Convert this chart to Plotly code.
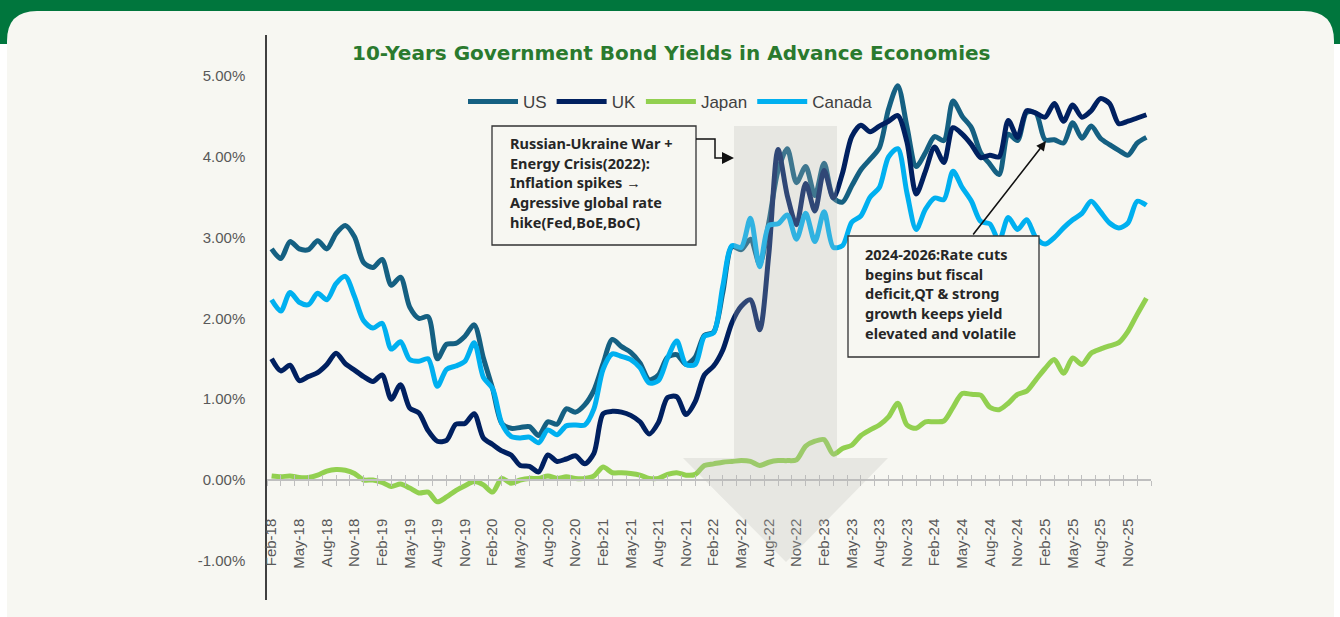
import plotly.graph_objects as go

# ---------------- data ----------------
month_names = ['Jan','Feb','Mar','Apr','May','Jun','Jul','Aug','Sep','Oct','Nov','Dec']
dates = []
for k in range(96):
    m = (1 + k) % 12
    y = 18 + (1 + k) // 12
    dates.append(f"{month_names[m]}-{y:02d}")

us = [2.86, 2.74, 2.95, 2.86, 2.85, 2.96, 2.86, 3.05, 3.15, 3.01, 2.69, 2.63,
      2.73, 2.41, 2.51, 2.14, 2.00, 2.02, 1.50, 1.68, 1.69, 1.78, 1.92, 1.51,
      1.13, 0.70, 0.64, 0.65, 0.66, 0.55, 0.72, 0.69, 0.88, 0.84, 0.93, 1.11,
      1.44, 1.74, 1.65, 1.58, 1.45, 1.24, 1.30, 1.52, 1.55, 1.43, 1.52, 1.79,
      1.83, 2.32, 2.89, 2.85, 2.98, 2.67, 3.19, 3.83, 4.10, 3.68, 3.88, 3.52,
      3.92, 3.49, 3.44, 3.64, 3.84, 3.97, 4.11, 4.59, 4.88, 4.37, 3.88, 4.05,
      4.25, 4.20, 4.69, 4.50, 4.36, 4.05, 3.91, 3.78, 4.28, 4.20, 4.55, 4.54,
      4.21, 4.21, 4.17, 4.42, 4.23, 4.38, 4.23, 4.15, 4.08, 4.02, 4.17, 4.24]

uk = [1.50, 1.35, 1.42, 1.23, 1.28, 1.33, 1.43, 1.57, 1.44, 1.36, 1.28, 1.22,
      1.30, 1.00, 1.18, 0.89, 0.83, 0.61, 0.48, 0.49, 0.69, 0.70, 0.82, 0.52,
      0.44, 0.36, 0.31, 0.18, 0.17, 0.10, 0.31, 0.23, 0.26, 0.30, 0.20, 0.33,
      0.82, 0.85, 0.84, 0.80, 0.72, 0.57, 0.71, 1.02, 1.03, 0.81, 0.97, 1.30,
      1.41, 1.61, 1.95, 2.15, 2.23, 1.86, 2.80, 4.09, 3.52, 3.16, 3.67, 3.33,
      3.83, 3.49, 3.80, 4.25, 4.39, 4.31, 4.38, 4.44, 4.51, 4.18, 3.54, 3.82,
      4.12, 3.93, 4.36, 4.28, 4.15, 3.99, 4.02, 4.00, 4.45, 4.24, 4.57, 4.54,
      4.49, 4.66, 4.44, 4.64, 4.49, 4.57, 4.72, 4.66, 4.41, 4.44, 4.48, 4.52]

japan = [0.05, 0.04, 0.05, 0.03, 0.03, 0.06, 0.11, 0.13, 0.12, 0.08, 0.00, 0.00,
         -0.03, -0.08, -0.05, -0.10, -0.16, -0.15, -0.27, -0.21, -0.13, -0.07, -0.02, -0.06,
         -0.15, 0.02, -0.04, 0.00, 0.02, 0.02, 0.05, 0.02, 0.04, 0.02, 0.02, 0.05,
         0.16, 0.09, 0.09, 0.08, 0.06, 0.02, 0.02, 0.07, 0.09, 0.06, 0.07, 0.18,
         0.20, 0.22, 0.23, 0.24, 0.23, 0.18, 0.22, 0.24, 0.24, 0.25, 0.42, 0.48,
         0.50, 0.32, 0.39, 0.43, 0.55, 0.62, 0.68, 0.78, 0.95, 0.68, 0.64, 0.72,
         0.72, 0.73, 0.90, 1.07, 1.06, 1.05, 0.90, 0.87, 0.95, 1.06, 1.10, 1.24,
         1.38, 1.49, 1.32, 1.51, 1.43, 1.57, 1.62, 1.66, 1.70, 1.84, 2.05, 2.25]

canada = [2.23, 2.09, 2.32, 2.20, 2.17, 2.31, 2.23, 2.43, 2.52, 2.27, 1.97, 1.88,
          1.94, 1.62, 1.71, 1.49, 1.47, 1.50, 1.16, 1.37, 1.41, 1.47, 1.70, 1.27,
          1.13, 0.70, 0.54, 0.52, 0.53, 0.46, 0.62, 0.56, 0.67, 0.68, 0.68, 0.88,
          1.37, 1.56, 1.53, 1.49, 1.39, 1.20, 1.23, 1.51, 1.72, 1.43, 1.43, 1.78,
          1.82, 2.40, 2.90, 2.88, 3.24, 2.64, 3.15, 3.17, 3.28, 2.98, 3.30, 2.95,
          3.32, 2.88, 2.90, 3.19, 3.27, 3.50, 3.62, 4.00, 4.10, 3.55, 3.10, 3.35,
          3.49, 3.47, 3.82, 3.62, 3.45, 3.20, 3.17, 2.96, 3.25, 3.10, 3.22, 3.00,
          2.92, 3.00, 3.12, 3.22, 3.30, 3.45, 3.32, 3.18, 3.12, 3.18, 3.45, 3.40]

series_names = ["US", "UK", "Japan", "Canada"]
series_colors = ["#156082", "#002060", "#92D050", "#00B0F0"]

xlabel_idx = list(range(0, 96, 3))
xlabel_txt = [dates[i] for i in xlabel_idx]
ytick_vals = [-1, 0, 1, 2, 3, 4, 5]
ytick_txt = ["-1.00%", "0.00%", "1.00%", "2.00%", "3.00%", "4.00%", "5.00%"]

title_text = "10-Years Government Bond Yields in Advance Economies"
note1 = ["Russian-Ukraine War +", "Energy Crisis(2022):", "Inflation spikes \u2192",
         "Agressive global rate", "hike(Fed,BoE,BoC)"]
note2 = ["2024-2026:Rate cuts", "begins but fiscal", "deficit,QT & strong",
         "growth keeps yield", "elevated and volatile"]

# ---------------- layout geometry (pixels) ----------------
W, H = 1340, 617
L, R, T, B = 267, 1151, 35, 600
YMIN, YMAX = -1.485, 5.507
XMIN, XMAX = -0.5, 95.5

def px(x):
    return (x - L) / (R - L)

def py(y):
    return 1 - (y - T) / (B - T)

x_idx = list(range(len(us)))

fig = go.Figure()
for name, vals, col in zip(series_names, [us, uk, japan, canada], series_colors):
    fig.add_trace(go.Scatter(x=x_idx, y=vals, name=name, mode="lines",
                             line=dict(color=col, width=5, shape="spline", smoothing=0.8),
                             hoverinfo="skip"))
# helper trace for the overlay axis (inside ticks)
fig.add_trace(go.Scatter(x=[None], y=[None], xaxis="x2", showlegend=False, hoverinfo="skip"))

zero_pos = (0 - YMIN) / (YMAX - YMIN)
tick_font = dict(family="Liberation Sans, Arial", size=15, color="#595959")

fig.update_layout(
    width=W, height=H, autosize=False,
    margin=dict(l=L, r=W - R, t=T, b=H - B, pad=0),
    paper_bgcolor="#FFFFFF",
    plot_bgcolor="rgba(0,0,0,0)",
    showlegend=True,
    legend=dict(orientation="h", x=px(463), y=py(102), xanchor="left", yanchor="middle",
                font=dict(family="Liberation Sans, Arial", size=17, color="#404040"),
                itemwidth=50, bgcolor="rgba(0,0,0,0)", traceorder="normal"),
    xaxis=dict(range=[XMIN, XMAX], anchor="free", position=zero_pos,
               tickmode="array", tickvals=xlabel_idx, ticktext=xlabel_txt,
               tickangle=-90, ticks="", ticklabelstandoff=32,
               tickfont=tick_font,
               showline=True, linecolor="#BFBFBF", linewidth=1.5,
               showgrid=False, zeroline=False,
               minor=dict(tick0=-0.5, dtick=1.5, ticks="outside", ticklen=5,
                          tickcolor="#BFBFBF", tickwidth=1.2, showgrid=False)),
    xaxis2=dict(range=[XMIN, XMAX], overlaying="x", anchor="free", position=zero_pos,
                tickmode="linear", tick0=-0.5, dtick=1.5, ticks="inside", ticklen=5,
                tickcolor="#BFBFBF", tickwidth=1.2, showticklabels=False,
                showline=False, showgrid=False, zeroline=False),
    yaxis=dict(range=[YMIN, YMAX], tickmode="array", tickvals=ytick_vals, ticktext=ytick_txt,
               ticks="", ticklabelstandoff=17, tickfont=tick_font,
               showline=True, linecolor="#404040", linewidth=1.5,
               showgrid=False, zeroline=False),
)

# ---------------- background shapes ----------------
shapes = []
shapes.append(dict(type="rect", xref="paper", yref="paper", x0=px(0), x1=px(W), y0=py(0), y1=py(44),
                   fillcolor="#00763D", line=dict(width=0), layer="below"))
cx0, cy0, cx1, cy1, r = 7, 11, 1334, 700, 30
card = (f"M {px(cx0)} {py(cy0 + r)} Q {px(cx0)} {py(cy0)} {px(cx0 + r)} {py(cy0)} "
        f"L {px(cx1 - r)} {py(cy0)} Q {px(cx1)} {py(cy0)} {px(cx1)} {py(cy0 + r)} "
        f"L {px(cx1)} {py(cy1)} L {px(cx0)} {py(cy1)} Z")
shapes.append(dict(type="path", xref="paper", yref="paper", path=card,
                   fillcolor="#F7F7F2", line=dict(width=0), layer="below"))

# big translucent down arrow
arrow_pts = [(734, 126), (837, 126), (837, 458), (888, 458), (786, 562), (683, 458), (734, 458)]
p = "M " + " L ".join(f"{px(a)} {py(b)}" for a, b in arrow_pts) + " Z"
shapes.append(dict(type="path", xref="paper", yref="paper", path=p,
                   fillcolor="rgba(185,185,180,0.26)", line=dict(width=0), layer="above"))

# note boxes
for (x0, y0, x1, y1) in [(492, 126, 696, 245), (848, 236, 1039, 357)]:
    shapes.append(dict(type="rect", xref="paper", yref="paper", x0=px(x0), x1=px(x1),
                       y0=py(y0), y1=py(y1), fillcolor="#F7F7F2",
                       line=dict(color="#333333", width=1.3), layer="above"))

# elbow connector from box 1
conn = [(696, 139), (715, 139), (715, 158), (726, 158)]
p = "M " + " L ".join(f"{px(a)} {py(b)}" for a, b in conn)
shapes.append(dict(type="path", xref="paper", yref="paper", path=p,
                   line=dict(color="#111111", width=1.5), layer="above"))
head = [(722, 152), (734, 158), (722, 164)]
p = "M " + " L ".join(f"{px(a)} {py(b)}" for a, b in head) + " Z"
shapes.append(dict(type="path", xref="paper", yref="paper", path=p,
                   fillcolor="#111111", line=dict(width=0), layer="above"))
fig.update_layout(shapes=shapes)

# ---------------- annotations ----------------
ann = []
ann.append(dict(text=f"<b>{title_text}</b>", xref="paper", yref="paper", x=px(671), y=py(53),
                xanchor="center", yanchor="middle", showarrow=False,
                font=dict(family="DejaVu Sans", size=20, color="#2A7A2E")))
note_font = dict(family="Noto Sans", size=14.5, color="#262626")
for k, line in enumerate(note1):
    ann.append(dict(text=f"<b>{line}</b>", xref="paper", yref="paper", x=px(508), y=py(143 + 19.7 * k),
                    xanchor="left", yanchor="middle", showarrow=False, font=note_font))
for k, line in enumerate(note2):
    ann.append(dict(text=f"<b>{line}</b>", xref="paper", yref="paper", x=px(863), y=py(254 + 19.7 * k),
                    xanchor="left", yanchor="middle", showarrow=False, font=note_font))
# arrow from box 2
ann.append(dict(text="", xref="paper", yref="paper", x=px(1046), y=py(141),
                ax=972 - 1046, ay=236 - 141, showarrow=True, arrowhead=2, arrowsize=1.2,
                arrowwidth=1.6, arrowcolor="#111111", standoff=0))
fig.update_layout(annotations=ann)

fig.write_html("out.html")
